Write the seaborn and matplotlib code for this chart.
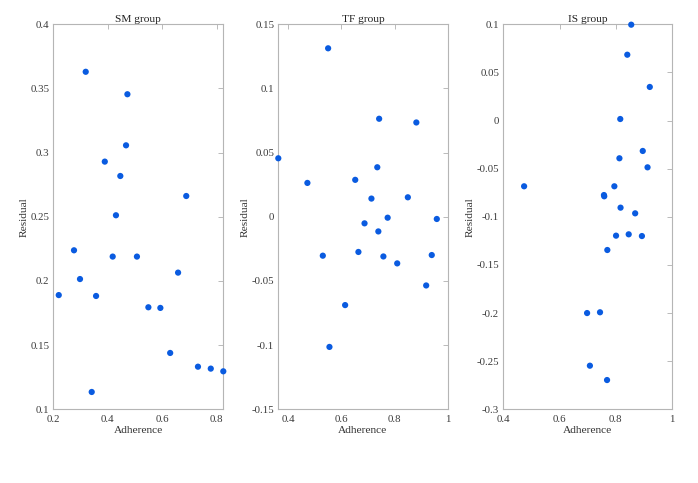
import matplotlib
matplotlib.use("Agg")
import matplotlib.pyplot as plt
import seaborn as sns
import pandas as pd

sm_x = [0.319, 0.472, 0.467, 0.389, 0.446, 0.688, 0.430, 0.276, 0.418, 0.507, 0.298,
        0.658, 0.220, 0.357, 0.549, 0.593, 0.629, 0.731, 0.778, 0.824, 0.341]
sm_y = [0.363, 0.3455, 0.3057, 0.293, 0.2818, 0.2662, 0.2512, 0.2239, 0.219, 0.219, 0.2015,
        0.2065, 0.189, 0.1883, 0.1795, 0.179, 0.1439, 0.1332, 0.1317, 0.1296, 0.1135]

tf_x = [0.550, 0.742, 0.882, 0.3625, 0.735, 0.472, 0.652, 0.713, 0.850, 0.687, 0.774,
        0.959, 0.739, 0.530, 0.664, 0.758, 0.810, 0.940, 0.919, 0.614, 0.555]
tf_y = [0.1313, 0.0764, 0.0735, 0.0456, 0.0386, 0.0264, 0.0288, 0.0142, 0.0152, -0.0051, -0.0007,
        -0.0017, -0.0114, -0.0303, -0.0274, -0.0309, -0.0363, -0.0298, -0.0535, -0.0688, -0.1014]

is_x = [0.855, 0.841, 0.921, 0.816, 0.896, 0.913, 0.813, 0.474, 0.795, 0.758, 0.759,
        0.817, 0.869, 0.801, 0.846, 0.893, 0.770, 0.698, 0.744, 0.708, 0.769]
is_y = [0.0996, 0.0684, 0.0349, 0.0016, -0.0316, -0.0486, -0.0392, -0.0683, -0.0683, -0.0774, -0.0787,
        -0.0905, -0.0964, -0.1196, -0.1182, -0.1200, -0.1345, -0.2000, -0.1992, -0.2547, -0.2696]

titles = ["SM group", "TF group", "IS group"]
xlims = [(0.2, 0.824), (0.3625, 1.0), (0.4, 1.0)]
ylims = [(0.1, 0.4), (-0.15, 0.15), (-0.3, 0.1)]
xticks = [[0.2, 0.4, 0.6, 0.8], [0.4, 0.6, 0.8, 1.0], [0.4, 0.6, 0.8, 1.0]]
xticklabels = [["0.2", "0.4", "0.6", "0.8"], ["0.4", "0.6", "0.8", "1"], ["0.4", "0.6", "0.8", "1"]]
yticks = [[0.1, 0.15, 0.2, 0.25, 0.3, 0.35, 0.4],
          [-0.15, -0.1, -0.05, 0, 0.05, 0.1, 0.15],
          [-0.3, -0.25, -0.2, -0.15, -0.1, -0.05, 0, 0.05, 0.1]]
yticklabels = [["0.1", "0.15", "0.2", "0.25", "0.3", "0.35", "0.4"],
               ["-0.15", "-0.1", "-0.05", "0", "0.05", "0.1", "0.15"],
               ["-0.3", "-0.25", "-0.2", "-0.15", "-0.1", "-0.05", "0", "0.05", "0.1"]]

sns.set_style("white")
plt.rcParams['font.family'] = ['Liberation Serif', 'DejaVu Serif']

fig = plt.figure(figsize=(6.98, 4.83), dpi=100)
lefts = [53.3 / 698, 278.3 / 698, 503.3 / 698]
widths = [170 / 698, 169.4 / 698, 168.7 / 698]
bottom = (483 - 409.3) / 483
height = 385 / 483

data = [(sm_x, sm_y), (tf_x, tf_y), (is_x, is_y)]
for i, (xs, ys) in enumerate(data):
    ax = fig.add_axes([lefts[i], bottom, widths[i], height])
    df = pd.DataFrame({"Adherence": xs, "Residual": ys})
    sns.scatterplot(data=df, x="Adherence", y="Residual", ax=ax, color="#0a5be0",
                    s=20, edgecolor="none", linewidth=0, clip_on=False, zorder=3)
    ax.set_xlim(*xlims[i])
    ax.set_ylim(*ylims[i])
    ax.set_xticks(xticks[i])
    ax.set_xticklabels(xticklabels[i])
    ax.set_yticks(yticks[i])
    ax.set_yticklabels(yticklabels[i])
    ax.tick_params(direction="in", length=3.5, width=0.6, colors="#b0b0b0",
                   labelcolor="#3a3a3a", labelsize=7.8, top=True, right=True)
    ax.tick_params(axis="y", pad=3)
    ax.tick_params(axis="x", pad=4)
    for sp in ax.spines.values():
        sp.set_visible(True)
        sp.set_color("#b5b5b5")
        sp.set_linewidth(0.8)
    ax.set_title(titles[i], fontsize=8.2, color="#222222", pad=1.5)
    ax.set_xlabel("Adherence", fontsize=8.2, color="#333333", labelpad=1.5)
    ax.set_ylabel("Residual", fontsize=8.2, color="#333333", labelpad=1.0)

fig.savefig("out.png", dpi=100)
